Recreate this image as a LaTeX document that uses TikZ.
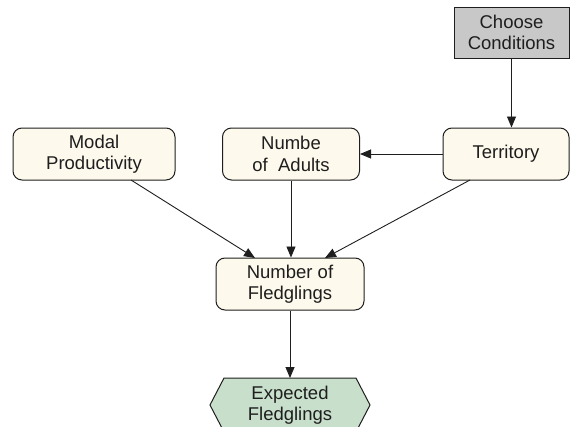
\documentclass[tikz,border=0pt]{standalone}
\usepackage{fontspec}
\setmainfont{Liberation Sans}
\usetikzlibrary{arrows.meta,calc}
\definecolor{cream}{HTML}{FDF9EC}
\definecolor{graybox}{HTML}{C8C8C8}
\definecolor{greenbox}{HTML}{C8DFCB}
\definecolor{ink}{HTML}{1E1E1E}
\begin{document}
\begin{tikzpicture}[x=1pt,y=-1pt,
  lbl/.style={align=center,text=ink,font=\fontsize{18.5}{21.5}\selectfont},
  box/.style={lbl,draw=ink,line width=1pt,rounded corners=9pt,fill=cream,inner sep=0pt},
  arr/.style={-{Triangle[length=11pt,width=9pt]},line width=0.9pt,ink}]
\useasboundingbox (0,0) rectangle (584,426);
\clip (0,0) rectangle (584,426);
\node[lbl,draw=ink,line width=1pt,fill=graybox,minimum width=115pt,minimum height=51pt,inner sep=0pt] (cc) at (511.5,32.5) {Choose\\Conditions};
\node[box,minimum width=126pt,minimum height=52pt] (ter) at (506,154) {Territory};
\node[box,minimum width=137pt,minimum height=52pt] (ad) at (291,154) {Numbe\\of\ \ Adults};
\node[box,minimum width=162pt,minimum height=52pt] (mp) at (94,154) {Modal\\Productivity};
\node[box,minimum width=148pt,minimum height=52pt] (nf) at (290,284) {Number of\\Fledglings};
\path[draw=ink,line width=1pt,fill=greenbox] (224,378) -- (356,378) -- (370,405) -- (356,432) -- (224,432) -- (210,405) -- cycle;
\node[lbl] (ef) at (290,405) {Expected\\Fledglings};
\coordinate (mps) at (131,180);
\coordinate (nfl) at (255,258);
\coordinate (ts) at (470,180);
\coordinate (nfr) at (325,258);
\draw[arr] (cc.south) -- (cc.south |- ter.north);
\draw[arr] (ter.west) -- (ad.east);
\draw[arr] (mps) -- (nfl);
\draw[arr] (ad.south) -- (ad.south |- nf.north);
\draw[arr] (ts) -- (nfr);
\draw[arr] (nf.south) -- (nf.south |- 0,378);
\end{tikzpicture}
\end{document}
